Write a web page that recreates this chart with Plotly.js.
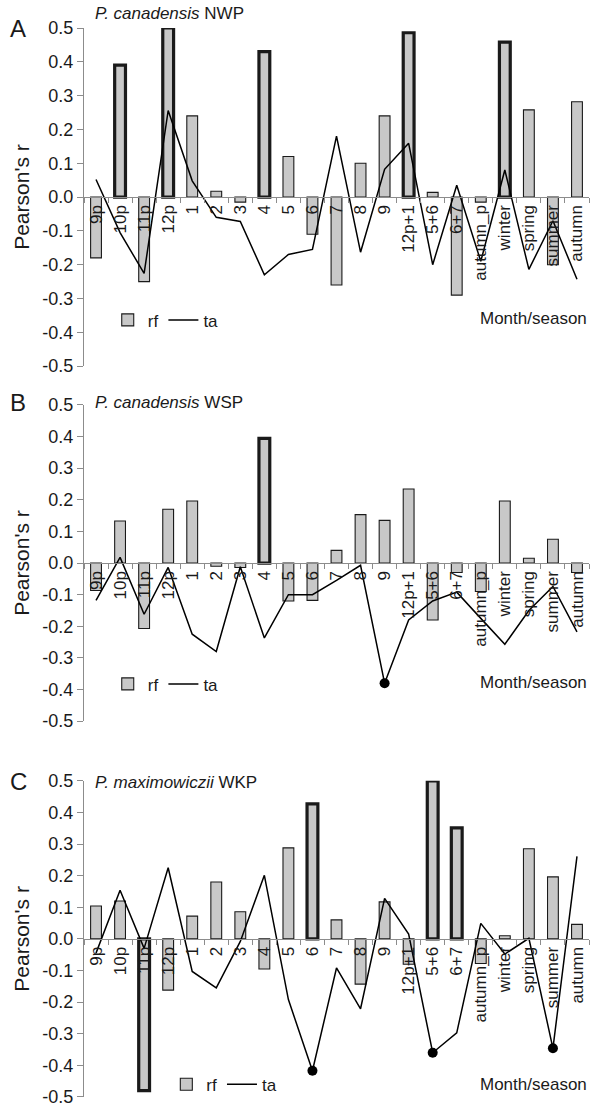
<!DOCTYPE html>
<html>
<head>
<meta charset="utf-8">
<script src="https://cdn.plot.ly/plotly-3.0.1.min.js"></script>
<style>
  html, body { margin: 0; padding: 0; background: #fff; }
  #chart { width: 604px; height: 1109px; }
</style>
</head>
<body>
<div id="chart"></div>
<script>
// ---------- data ----------
const categories = ['9p','10p','11p','12p','1','2','3','4','5','6','7','8','9','12p+1','5+6','6+7','autumn_p','winter','spring','summer','autumn'];

const rfA = [-0.18, 0.39, -0.25, 0.50, 0.24, 0.017, -0.015, 0.43, 0.12, -0.11, -0.26, 0.10, 0.24, 0.486, 0.014, -0.29, -0.015, 0.458, 0.258, -0.20, 0.282];
const taA = [0.052, -0.105, -0.226, 0.256, 0.048, -0.06, -0.072, -0.23, -0.17, -0.155, 0.18, -0.163, 0.082, 0.159, -0.20, 0.035, -0.19, 0.08, -0.214, -0.07, -0.243];

const rfB = [-0.087, 0.133, -0.207, 0.17, 0.196, -0.01, -0.014, 0.394, -0.12, -0.118, 0.04, 0.153, 0.135, 0.234, -0.18, -0.03, -0.09, 0.196, 0.015, 0.075, -0.03];
const taB = [-0.118, 0.018, -0.162, -0.014, -0.225, -0.28, -0.012, -0.237, -0.10, -0.10, -0.055, -0.007, -0.38, -0.18, -0.12, -0.092, -0.175, -0.257, -0.15, -0.074, -0.218];

const rfC = [0.104, 0.12, -0.48, -0.162, 0.072, 0.18, 0.086, -0.095, 0.288, 0.427, 0.06, -0.143, 0.117, -0.08, 0.50, 0.351, -0.078, 0.01, 0.285, 0.196, 0.046];
const taC = [-0.045, 0.154, -0.03, 0.225, -0.103, -0.155, -0.008, 0.201, -0.192, -0.417, -0.092, -0.221, 0.128, 0.015, -0.36, -0.297, 0.049, -0.048, 0.002, -0.346, 0.261];

// bars with bold outline (significant rf) and significant ta points
const boldA = ['10p','12p','4','12p+1','winter'];
const boldB = ['4'];
const boldC = ['11p','6','5+6','6+7'];
const sigTaA = [];
const sigTaB = ['9'];
const sigTaC = ['6','5+6','summer'];

const yTickVals = [-0.5,-0.4,-0.3,-0.2,-0.1,0,0.1,0.2,0.3,0.4,0.5];
const yTickText = ['-0.5','-0.4','-0.3','-0.2','-0.1','0.0','0.1','0.2','0.3','0.4','0.5'];

const panelLetters = ['A','B','C'];
const panelTitles = ['<i>P. canadensis</i> NWP','<i>P. canadensis</i> WSP','<i>P. maximowiczii</i> WKP'];

// ---------- styling ----------
const FONT = '"Liberation Sans", Arial, sans-serif';
const TXT = '#1a1a1a';
const AXC = '#8c8c8c';

const panels = [
  {rf: rfA, ta: taA, bold: boldA, sig: sigTaA, dom: [0.6837, 1.0]},
  {rf: rfB, ta: taB, bold: boldB, sig: sigTaB, dom: [0.3516, 0.6474]},
  {rf: rfC, ta: taC, bold: boldC, sig: sigTaC, dom: [0.0, 0.2958]}
];

const legendX = [0.047, 0.047, 0.163];
const legendY = [0.7265, 0.386, 0.0115];
const legendNames = ['legend','legend2','legend3'];

const traces = [];
const layout = {
  width: 604, height: 1109,
  margin: {l: 84, r: 15, t: 28, b: 6},
  paper_bgcolor: '#fff', plot_bgcolor: 'rgba(0,0,0,0)',
  font: {family: FONT, size: 17, color: TXT},
  bargap: 0.55,
  showlegend: true,
  annotations: [],
  shapes: []
};

const titleY = [13, 405, 787];   // px from top
const letterY = [29, 405, 786];
const monthY = [320, 686, 1090];

function py(p) { return (1103 - p) / 1075; }

panels.forEach((p, i) => {
  const n = i === 0 ? '' : String(i + 1);
  const xa = 'x' + n, ya = 'y' + n;
  const lw = categories.map(c => p.bold.includes(c) ? 3.2 : 1.1);
  traces.push({
    type: 'bar', name: 'rf', x: categories, y: p.rf,
    xaxis: xa, yaxis: ya, legend: legendNames[i],
    marker: {color: '#c8c8c8', line: {color: '#1a1a1a', width: lw}},
    hoverinfo: 'x+y'
  });
  traces.push({
    type: 'scatter', mode: 'lines', name: 'ta', x: categories, y: p.ta,
    xaxis: xa, yaxis: ya, legend: legendNames[i],
    line: {color: '#000', width: 1.5}
  });
  if (p.sig.length) {
    traces.push({
      type: 'scatter', mode: 'markers', name: 'ta (sig.)', showlegend: false,
      x: p.sig, y: p.sig.map(c => p.ta[categories.indexOf(c)]),
      xaxis: xa, yaxis: ya,
      marker: {color: '#000', size: 10}
    });
  }
  layout['xaxis' + n] = {
    type: 'category', domain: [0, 1], range: [-0.5, 20.5],
    anchor: 'free', position: (p.dom[0] + p.dom[1]) / 2,
    showline: true, linecolor: AXC, linewidth: 1.2,
    ticks: 'outside', tickson: 'boundaries', ticklen: 5, tickcolor: AXC,
    tickangle: -90, tickfont: {size: 17, color: TXT},
    showgrid: false, zeroline: false, fixedrange: true
  };
  layout['yaxis' + n] = {
    domain: p.dom, anchor: xa,
    range: [-0.5, 0.5], tickvals: yTickVals, ticktext: yTickText,
    showline: true, linecolor: AXC, linewidth: 1.2,
    ticks: 'outside', ticklen: 6, tickcolor: AXC,
    tickfont: {size: 18, color: TXT},
    showgrid: false, zeroline: false,
    title: {text: "Pearson's r", font: {size: 21, color: TXT}, standoff: 6},
    fixedrange: true
  };
  layout[legendNames[i]] = {
    orientation: 'h', x: legendX[i], xanchor: 'left',
    y: legendY[i], yanchor: 'middle',
    bgcolor: 'rgba(0,0,0,0)', font: {size: 17, color: TXT},
    itemwidth: 30, traceorder: 'normal'
  };
  layout.annotations.push({
    xref: 'paper', yref: 'paper', x: (93 - 84) / 505, y: py(titleY[i]),
    xanchor: 'left', yanchor: 'middle', showarrow: false,
    text: panelTitles[i], font: {size: 17, color: TXT}
  });
  layout.annotations.push({
    xref: 'paper', yref: 'paper', x: (8 - 84) / 505, y: py(letterY[i]),
    xanchor: 'left', yanchor: 'middle', showarrow: false,
    text: panelLetters[i], font: {size: 24, color: TXT}
  });
  layout.annotations.push({
    xref: 'paper', yref: 'paper', x: 1, y: py(monthY[i]),
    xanchor: 'right', yanchor: 'middle', showarrow: false,
    text: 'Month/season', font: {size: 17, color: TXT}
  });
});

Plotly.newPlot('chart', traces, layout, {staticPlot: true, displayModeBar: false});
</script>
</body>
</html>
